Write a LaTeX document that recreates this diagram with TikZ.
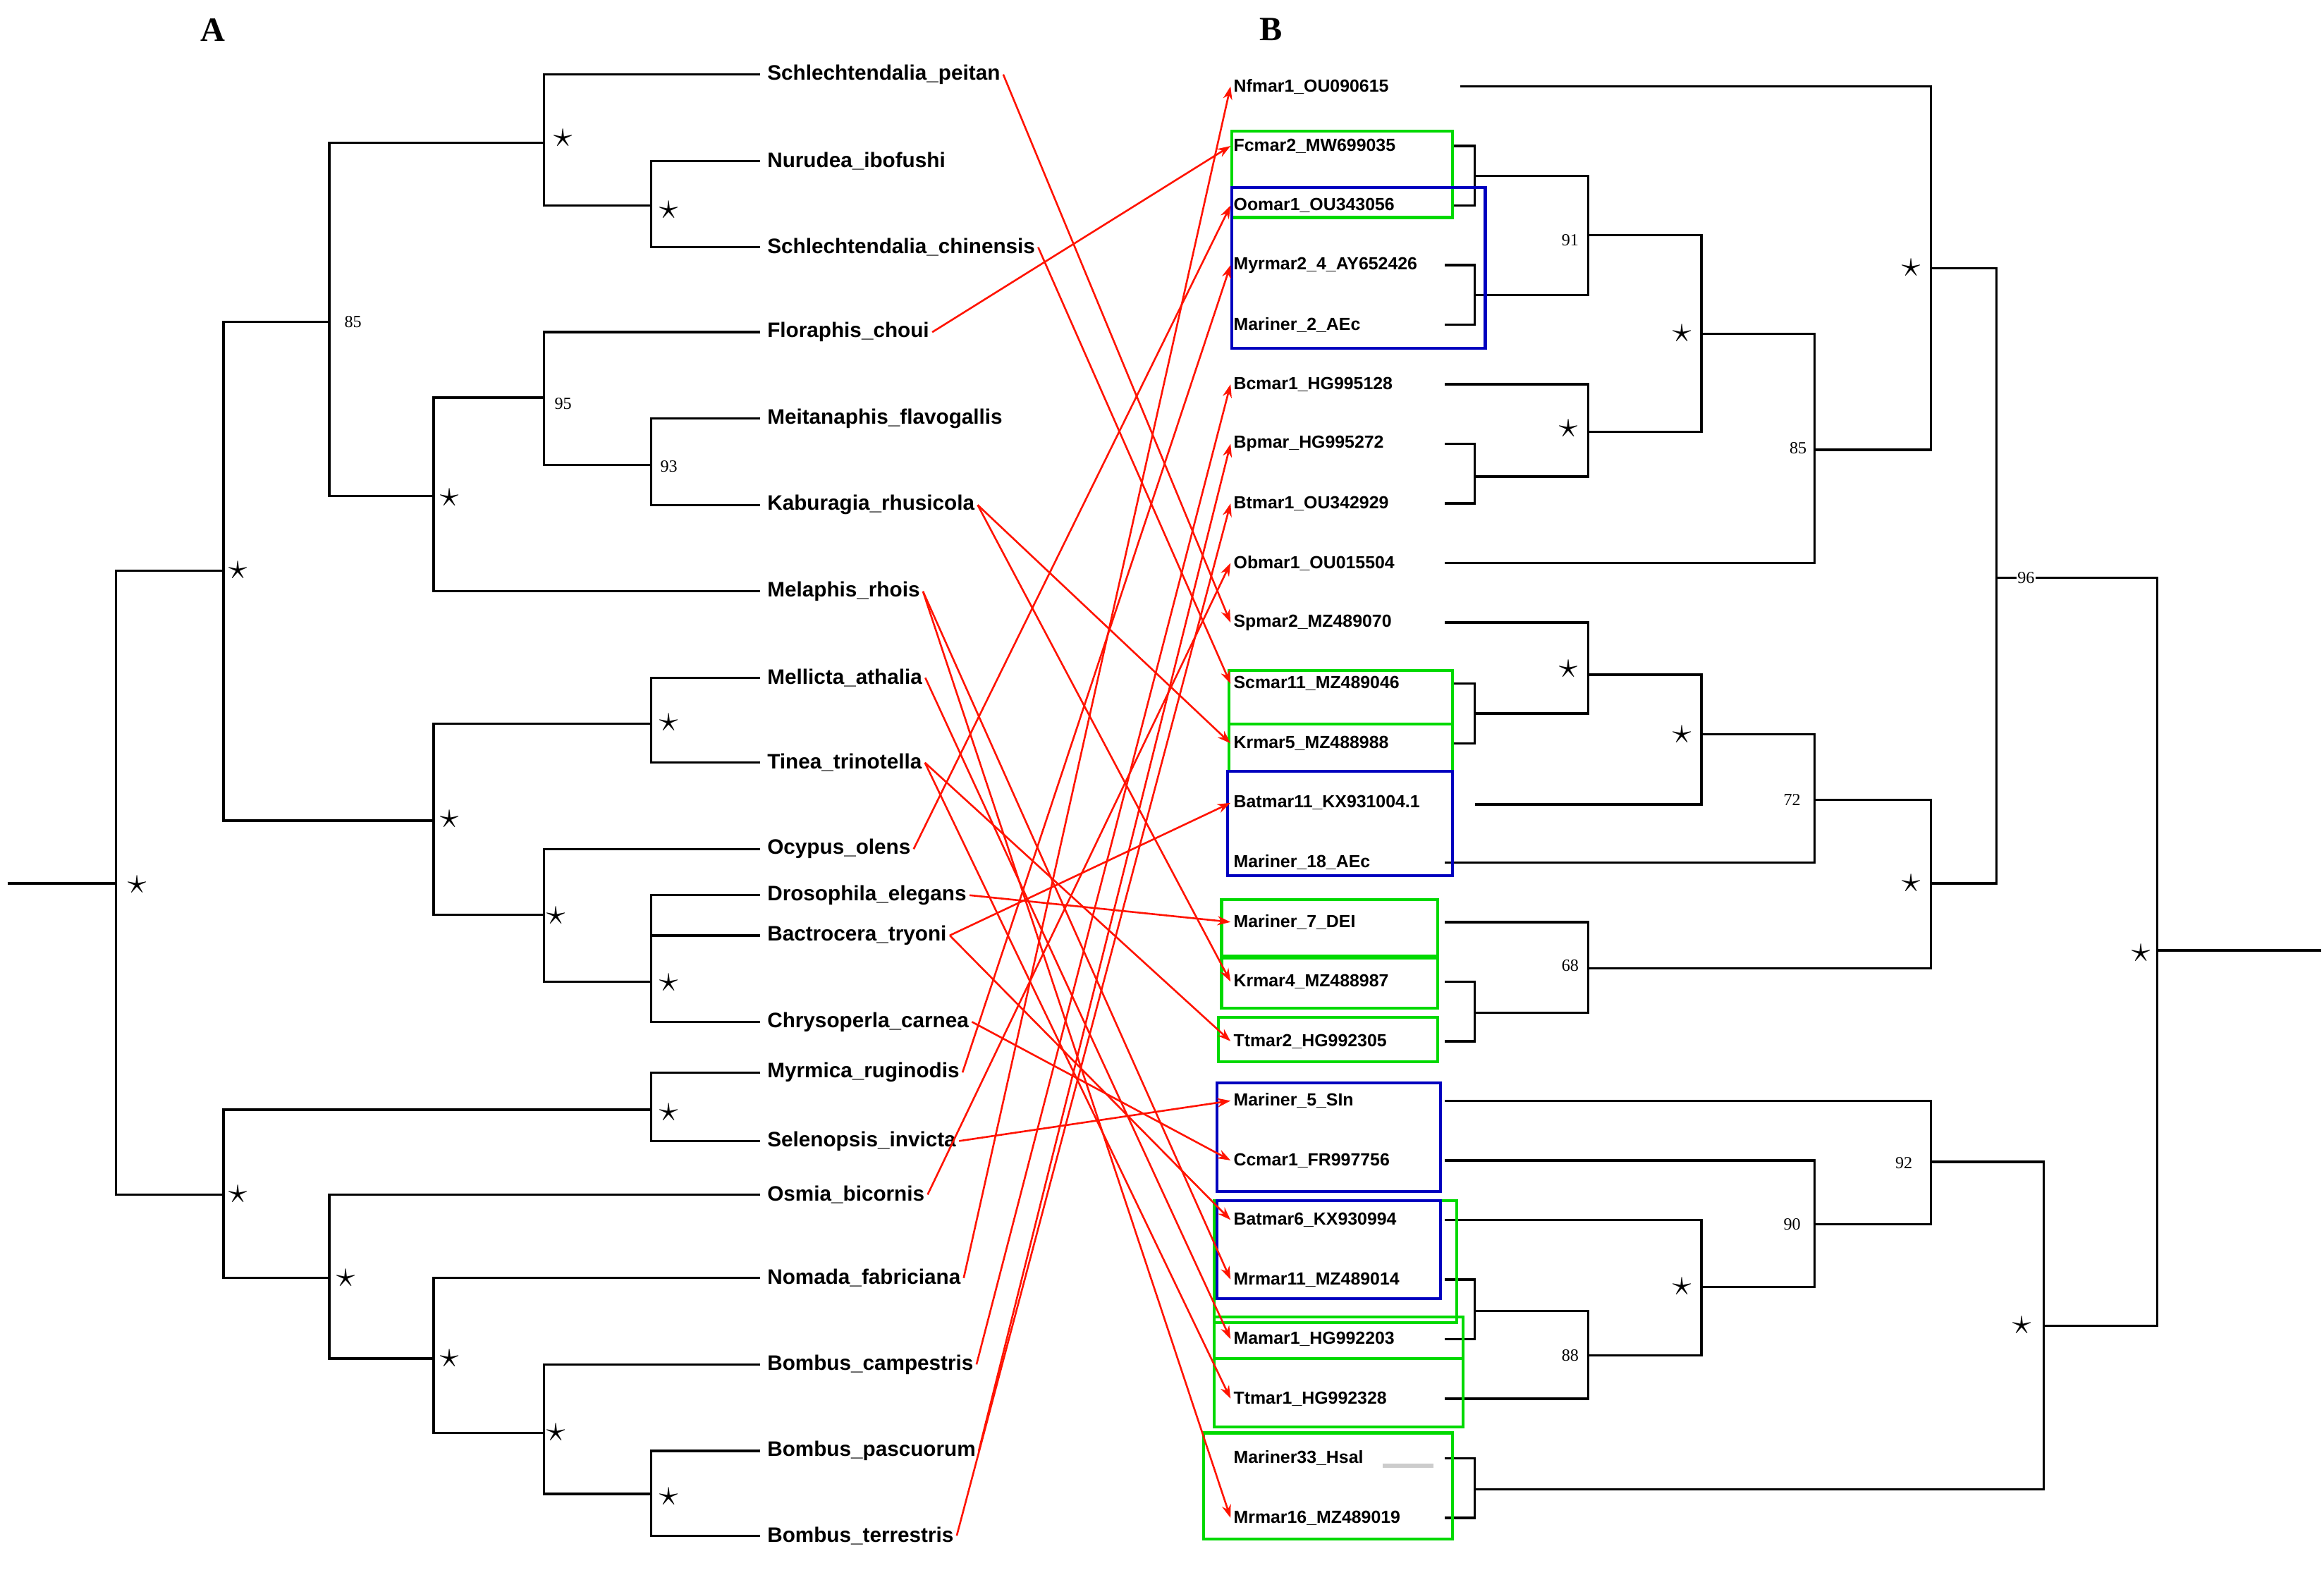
\documentclass[tikz,border=0pt]{standalone}
\usepackage{fontspec}
\setmainfont{Liberation Serif}
\newfontfamily\labfont{Liberation Sans}
\usetikzlibrary{arrows.meta}
\begin{document}
\begin{tikzpicture}[x=0.02cm,y=-0.02cm,
 br/.style={line width=0.9pt,black},
 lab/.style={anchor=west,inner sep=1pt,font=\labfont\bfseries\fontsize{8}{9}\selectfont},
 rl/.style={anchor=west,inner sep=1pt,font=\labfont\bfseries\fontsize{6.7}{7}\selectfont},
 sup/.style={font=\fontsize{6.5}{7}\selectfont,inner sep=0pt},
 st/.style={font=\fontsize{15}{15}\selectfont,inner sep=0pt},
 gb/.style={draw=green!85!black,line width=1.1pt},
 bb/.style={draw=blue!75!black,line width=1.1pt},
 ar/.style={red!85!orange,line width=0.7pt,-{Stealth[length=5pt,width=3.5pt]}},
 hd/.style={font=\bfseries\fontsize{13}{13}\selectfont}]
\useasboundingbox (0,0) rectangle (1560,1057);
\node[hd] (hA) at (143,20) {A};
\node[hd] (hB) at (853,20) {B};
% left tree
\draw[br] (5,593)--(78,593) (150,383)--(78,383)--(78,802)--(150,802);
\draw[br] (221,216)--(150,216)--(150,551)--(291,551);
\draw[br] (365,96)--(221,96)--(221,333)--(291,333);
\draw[br] (510,50)--(365,50)--(365,138)--(437,138);
\draw[br] (510,108)--(437,108)--(437,166)--(510,166);
\draw[br] (365,267)--(291,267)--(291,397)--(510,397);
\draw[br] (510,223)--(365,223)--(365,312)--(437,312);
\draw[br] (510,281)--(437,281)--(437,339)--(510,339);
\draw[br] (437,486)--(291,486)--(291,614)--(365,614);
\draw[br] (510,455)--(437,455)--(437,512)--(510,512);
\draw[br] (510,570)--(365,570)--(365,659)--(437,659);
\draw[br] (510,601)--(437,601)--(437,686)--(510,686) (437,628)--(510,628);
\draw[br] (437,745)--(150,745)--(150,858)--(221,858);
\draw[br] (510,720)--(437,720)--(437,766)--(510,766);
\draw[br] (510,802)--(221,802)--(221,912)--(291,912);
\draw[br] (510,858)--(291,858)--(291,962)--(365,962);
\draw[br] (510,916)--(365,916)--(365,1003)--(437,1003);
\draw[br] (510,974)--(437,974)--(437,1031)--(510,1031);
\node[sup] (l85) at (237,216) {85};
\node[sup] (l95) at (378,271) {95};
\node[sup] (l93) at (449,313) {93};
\foreach \x/\y [count=\i] in {378/93,449/141,302/334,160/383,449/485,302/550,373/615,449/660,92/594,449/747,160/802,232/858,302/912,373/962,449/1005}
  \node[st] (ls\i) at (\x,\y) {$\star$};
% left labels
\node[lab] (a1) at (513,50) {Schlechtendalia\_peitan};
\node[lab] (a2) at (513,108) {Nurudea\_ibofushi};
\node[lab] (a3) at (513,166) {Schlechtendalia\_chinensis};
\node[lab] (a4) at (513,223) {Floraphis\_choui};
\node[lab] (a5) at (513,281) {Meitanaphis\_flavogallis};
\node[lab] (a6) at (513,339) {Kaburagia\_rhusicola};
\node[lab] (a7) at (513,397) {Melaphis\_rhois};
\node[lab] (a8) at (513,455) {Mellicta\_athalia};
\node[lab] (a9) at (513,512) {Tinea\_trinotella};
\node[lab] (a10) at (513,570) {Ocypus\_olens};
\node[lab] (a11) at (513,601) {Drosophila\_elegans};
\node[lab] (a12) at (513,628) {Bactrocera\_tryoni};
\node[lab] (a13) at (513,686) {Chrysoperla\_carnea};
\node[lab] (a14) at (513,720) {Myrmica\_ruginodis};
\node[lab] (a15) at (513,766) {Selenopsis\_invicta};
\node[lab] (a16) at (513,802) {Osmia\_bicornis};
\node[lab] (a17) at (513,858) {Nomada\_fabriciana};
\node[lab] (a18) at (513,916) {Bombus\_campestris};
\node[lab] (a19) at (513,974) {Bombus\_pascuorum};
\node[lab] (a20) at (513,1031) {Bombus\_terrestris};
% right tree
\draw[br] (1558,638)--(1448,638) (1340,388)--(1448,388)--(1448,890)--(1372,890);
\draw[br] (1296,180)--(1340,180)--(1340,593)--(1296,593);
\draw[br] (980,58)--(1296,58)--(1296,302)--(1218,302);
\draw[br] (1142,224)--(1218,224)--(1218,378)--(970,378);
\draw[br] (1066,158)--(1142,158)--(1142,290)--(1066,290);
\draw[br] (990,118)--(1066,118)--(1066,198)--(990,198);
\draw[br] (975,98)--(990,98)--(990,138)--(975,138);
\draw[br] (970,178)--(990,178)--(990,218)--(970,218);
\draw[br] (970,258)--(1066,258)--(1066,320)--(990,320);
\draw[br] (970,298)--(990,298)--(990,338)--(970,338);
\draw[br] (1218,537)--(1296,537)--(1296,650)--(1066,650);
\draw[br] (1142,493)--(1218,493)--(1218,579)--(970,579);
\draw[br] (1066,453)--(1142,453)--(1142,540)--(975,540);
\draw[br] (970,418)--(1066,418)--(1066,479)--(990,479);
\draw[br] (975,459)--(990,459)--(990,499)--(975,499);
\draw[br] (970,619)--(1066,619)--(1066,680)--(990,680);
\draw[br] (970,659)--(990,659)--(990,699)--(970,699);
\draw[br] (1296,780)--(1372,780)--(1372,1000)--(990,1000);
\draw[br] (970,739)--(1296,739)--(1296,822)--(1218,822);
\draw[br] (970,779)--(1218,779)--(1218,864)--(1142,864);
\draw[br] (970,819)--(1142,819)--(1142,910)--(1066,910);
\draw[br] (990,880)--(1066,880)--(1066,939)--(970,939);
\draw[br] (970,859)--(990,859)--(990,899)--(970,899);
\draw[br] (970,979)--(990,979)--(990,1019)--(970,1019);
\foreach \x/\y/\t [count=\i] in {1054/161/91,1207/301/85,1360/388/96,1203/537/72,1054/648/68,1278/781/92,1203/822/90,1054/910/88}
  \node[sup,fill=white,inner sep=0.5pt] (rn\i) at (\x,\y) {\t};
\foreach \x/\y [count=\i] in {1283/180,1129/224,1053/288,1053/449,1129/493,1283/593,1437/640,1129/864,1357/890}
  \node[st] (rs\i) at (\x,\y) {$\star$};
% right labels
\node[rl] (b1) at (826,58) {Nfmar1\_OU090615};
\node[rl] (b2) at (826,98) {Fcmar2\_MW699035};
\node[rl] (b3) at (826,138) {Oomar1\_OU343056};
\node[rl] (b4) at (826,178) {Myrmar2\_4\_AY652426};
\node[rl] (b5) at (826,218) {Mariner\_2\_AEc};
\node[rl] (b6) at (826,258) {Bcmar1\_HG995128};
\node[rl] (b7) at (826,298) {Bpmar\_HG995272};
\node[rl] (b8) at (826,338) {Btmar1\_OU342929};
\node[rl] (b9) at (826,378) {Obmar1\_OU015504};
\node[rl] (b10) at (826,418) {Spmar2\_MZ489070};
\node[rl] (b11) at (826,459) {Scmar11\_MZ489046};
\node[rl] (b12) at (826,499) {Krmar5\_MZ488988};
\node[rl] (b13) at (826,539) {Batmar11\_KX931004.1};
\node[rl] (b14) at (826,579) {Mariner\_18\_AEc};
\node[rl] (b15) at (826,619) {Mariner\_7\_DEI};
\node[rl] (b16) at (826,659) {Krmar4\_MZ488987};
\node[rl] (b17) at (826,699) {Ttmar2\_HG992305};
\node[rl] (b18) at (826,739) {Mariner\_5\_SIn};
\node[rl] (b19) at (826,779) {Ccmar1\_FR997756};
\node[rl] (b20) at (826,819) {Batmar6\_KX930994};
\node[rl] (b21) at (826,859) {Mrmar11\_MZ489014};
\node[rl] (b22) at (826,899) {Mamar1\_HG992203};
\node[rl] (b23) at (826,939) {Ttmar1\_HG992328};
\node[rl] (b24) at (826,979) {Mariner33\_Hsal};
\node[rl] (b25) at (826,1019) {Mrmar16\_MZ489019};
\fill[white] (975,528) rectangle (990,550);
\draw[gray!40,line width=1.5pt] (928,984)--(962,984);
% boxes
\draw[gb] (827,88) rectangle (975,146);
\draw[bb] (827,126) rectangle (997,234);
\draw[gb] (825,450) rectangle (975,486);
\draw[gb] (825,486) rectangle (975,518);
\draw[bb] (824,518) rectangle (975,588);
\draw[gb] (820,604) rectangle (965,642);
\draw[gb] (820,643) rectangle (965,677);
\draw[gb] (818,683) rectangle (965,713);
\draw[bb] (817,727) rectangle (967,800);
\draw[gb] (815,806) rectangle (978,888);
\draw[bb] (817,806) rectangle (967,872);
\draw[gb] (815,884) rectangle (982,912);
\draw[gb] (815,884) rectangle (982,958);
\draw[gb] (808,962) rectangle (975,1033);
% arrows
\foreach \s/\t in {a1/b10,a3/b11,a4/b2,a6/b12,a6/b16,a7/b21,a7/b25,a8/b22,a9/b17,a9/b23,a10/b3,a11/b15,a12/b13,a12/b20,a13/b19,a14/b4,a15/b18,a16/b9,a17/b1,a18/b6,a19/b7,a20/b8}
  \draw[ar] (\s.east) -- (\t.west);
\end{tikzpicture}
\end{document}
